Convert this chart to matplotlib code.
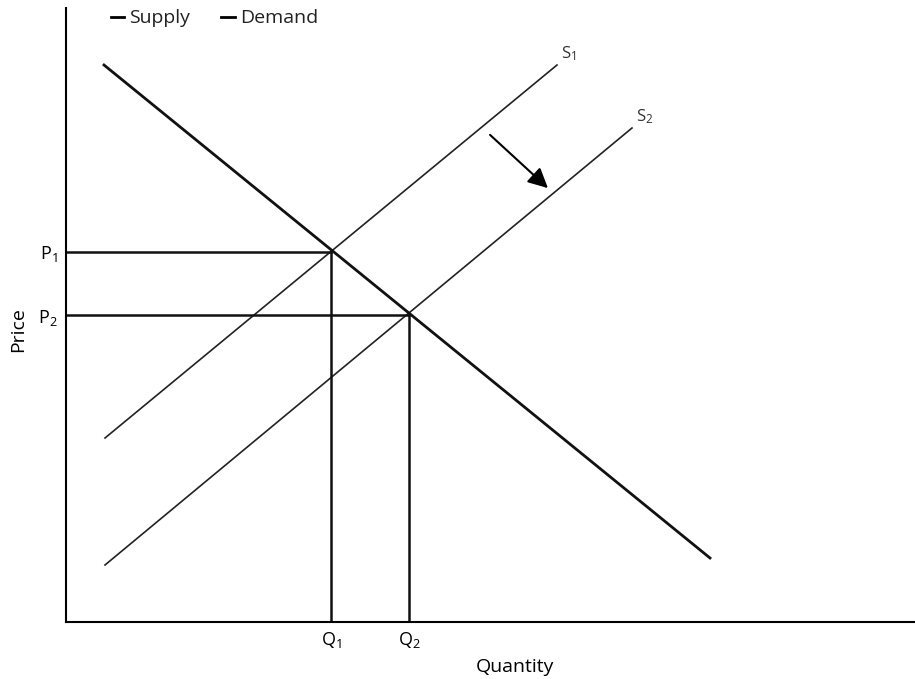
import numpy as np
import matplotlib.pyplot as plt

plt.rcParams['font.family'] = ['Open Sans', 'DejaVu Sans']
plt.rcParams['mathtext.fontset'] = 'custom'
plt.rcParams['mathtext.rm'] = 'Open Sans'
plt.rcParams['mathtext.it'] = 'Open Sans'

# Curve end points (quantity, price) in chart units
demand_q = [38, 644]
demand_p = [557, 64]
s1_q = [39, 491]
s1_p = [184, 557]
s2_q = [39, 566]
s2_p = [57, 494]

# Equilibria
q_eq = [265, 343]
p_eq = [370, 307]
q_labels = [r'Q$_1$', r'Q$_2$']
p_labels = [r'P$_1$', r'P$_2$']

# Shift arrow
arrow_start = (422, 489)
arrow_end = (484, 432)

fig = plt.figure(figsize=(9.15, 6.79), dpi=100)
ax = fig.add_axes([66 / 915, 57 / 679, 1 - 66 / 915, 614 / 679])

ax.plot(s1_q, s1_p, color='#222222', lw=1.2, label='Supply')
ax.plot(s2_q, s2_p, color='#222222', lw=1.2)
ax.plot(demand_q, demand_p, color='#111111', lw=2, label='Demand')

for q, p in zip(q_eq, p_eq):
    ax.plot([0, q], [p, p], color='#111111', lw=1.8)
    ax.plot([q, q], [0, p], color='#111111', lw=1.8)

ax.annotate('', xy=arrow_end, xytext=arrow_start,
            arrowprops=dict(arrowstyle='-|>', color='black', lw=1.5,
                            mutation_scale=30))

ax.text(s1_q[1] + 4, s1_p[1] + 2, r'S$_1$', fontsize=12, color='#333333', va='bottom')
ax.text(s2_q[1] + 4, s2_p[1] + 2, r'S$_2$', fontsize=12, color='#333333', va='bottom')

ax.set_xlim(0, 849)
ax.set_ylim(0, 614)
ax.set_xticks(q_eq)
ax.set_xticklabels(q_labels, fontsize=13)
ax.set_yticks(p_eq)
ax.set_yticklabels(p_labels, fontsize=13)
ax.tick_params(length=0, pad=6)
ax.set_xlabel('Quantity', fontsize=14, va='center')
ax.xaxis.set_label_coords(0.529, -0.073)
ax.set_ylabel('Price', fontsize=14, va='center')
ax.yaxis.set_label_coords(-0.056, 0.476)

for side in ['top', 'right']:
    ax.spines[side].set_visible(False)
for side in ['left', 'bottom']:
    ax.spines[side].set_linewidth(1.5)

fig.legend(loc='upper left', bbox_to_anchor=(0.102, 1.012), ncol=2, frameon=False,
           handlelength=0.7, handletextpad=0.25, columnspacing=1.6, fontsize=14,
           labelcolor='#222222')
leg = fig.legends[0]
for h in leg.legend_handles:
    h.set_color('black')
    h.set_linewidth(2)

fig.savefig('out.png', dpi=100)
